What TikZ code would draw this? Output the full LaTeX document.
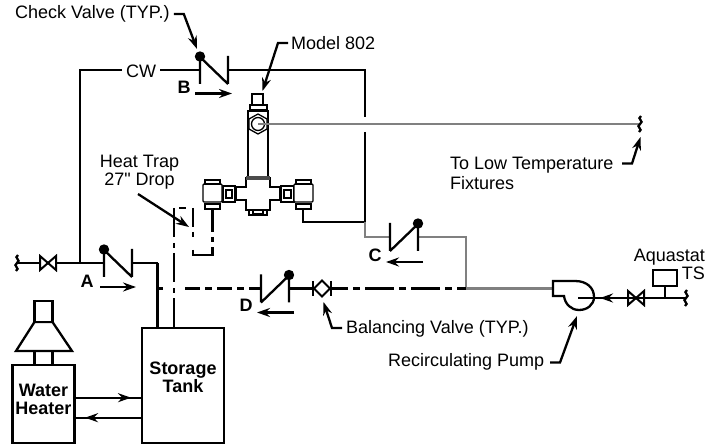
\documentclass[tikz,border=0pt]{standalone}
\usepackage{fontspec}
\setmainfont{Liberation Sans}[Ligatures = TeXOff]
\usetikzlibrary{arrows.meta}

\begin{document}
\begin{tikzpicture}[x = 1bp, y = -1bp, line join = miter,
        every node/.style = {inner sep = 0pt, font = \fontsize{18bp}{18bp}\selectfont},
        tag/.style = {font = \fontsize{18bp}{18bp}\selectfont\bfseries},
        pipe/.style = {line width = 2.3bp},
        hotpipe/.style = {line width = 2.3bp, draw = black!50},
        part/.style = {line width = 1.3bp, fill = white},
        dropline/.style = {pipe, dash pattern = on 29bp off 6bp on 5bp off 5bp},
        returnline/.style = {pipe, dash pattern = on 29bp off 5bp on 7bp off 5bp},
        shortreturn/.style = {pipe, dash pattern = on 15bp off 5bp on 7bp off 5bp},
        pointer/.style = {line width = 2.3bp, -{Stealth[length = 13bp, width = 9bp]}},
        checkvalve/.pic = {
            \draw[pipe] (0, -13) -- (0, 14) (28, -14) -- (28, 14) (0, -13) -- (28, 14);
            \fill (0, -13.5) circle (5.2);},
        stopvalve/.pic = {
            \draw[part, line width = 2bp] (-8, -7) -- (8, 7) -- (8, -7) -- (-8, 7) -- cycle;},
        breakmark/.pic = {
            \draw[pipe] (1, -8) .. controls (-4, -5) and (5, -3) .. (0, 0) .. controls (-5, 3) and (4, 5) .. (-1, 8);}]
        \useasboundingbox (0, 0) rectangle (719, 446);

        \coordinate (cwcorner) at (80, 70);
        \coordinate (cwtee) at (80, 263);
        \coordinate (coldend) at (17, 263);
        \coordinate (coldvalve) at (48, 263);
        \coordinate (valveA) at (104, 263);
        \coordinate (valveAout) at (132, 263);
        \coordinate (tankcold) at (157.5, 263);
        \coordinate (returnstart) at (158, 288.5);
        \coordinate (valveB) at (200, 70);
        \coordinate (valveBout) at (228, 70);
        \coordinate (cwright) at (365, 70);
        \coordinate (cwstop) at (365, 117);
        \coordinate (cwresume) at (365, 132);
        \coordinate (mixin) at (365, 222);
        \coordinate (mixport) at (303, 222);
        \coordinate (valveC) at (418, 237);
        \coordinate (valveCout) at (390, 237);
        \coordinate (greybend) at (365, 237);
        \coordinate (greyright) at (466, 237);
        \coordinate (greyjoin) at (466, 288.5);
        \coordinate (valveD) at (289, 288.5);
        \coordinate (valveDout) at (261, 288.5);
        \coordinate (balance) at (322, 288.5);
        \coordinate (pumpout) at (553, 288.5);
        \coordinate (pumpin) at (578, 298);
        \coordinate (pumpvalve) at (636, 298);
        \coordinate (hotend) at (686, 298);
        \coordinate (statstem) at (665, 298);
        \coordinate (hex) at (258, 124);
        \coordinate (lowend) at (640, 124);

        \node[draw, line width = 2.3bp, minimum width = 82bp, minimum height = 115bp] (tank) at (183, 385.5) {};
        \node[tag, align = center] (tanktext) at (183, 377) {Storage\\Tank};
        \node[draw, line width = 2.3bp, minimum width = 62bp, minimum height = 78bp] (heater) at (43.5, 404) {};
        \node[tag, align = center] (heatertext) at (43.5, 399.5) {Water\\Heater};
        \node[draw, line width = 2bp, minimum width = 24bp, minimum height = 16bp] (stat) at (665, 278) {};

        \draw[pipe] (valveBout) -- (cwright) -- (cwstop);
        \draw[pipe] (cwresume) -- (mixin) -- (mixport) -- (303, 210);
        \draw[pipe] (tankcold) -- (tankcold |- tank.north);
        \draw[pipe] (coldend) -- (valveA);
        \draw[pipe] (valveAout) -- (tankcold);
        \draw[pipe] (cwtee) -- (cwcorner) -- (122, 70);
        \draw[pipe] (160, 70) -- (valveB);
        \node (cw) at (141, 71) {CW};

        \draw[hotpipe] (hex) -- (lowend);
        \draw[hotpipe] (mixin) -- (greybend) -- (valveCout);
        \draw[hotpipe] (valveC) -- (greyright) -- (greyjoin) -- (pumpout);

        \draw[dropline] (174, 208) -- (174, 328);
        \draw[pipe] (179, 208) -- (186, 208);
        \draw[pipe, dash pattern = on 19bp off 5bp on 5bp off 13bp] (193, 208) -- (193, 250);
        \draw[pipe] (193, 250) -- (193, 255) -- (212.5, 255) -- (212.5, 247);
        \draw[pipe, dash pattern = on 22bp off 5bp on 5bp off 5bp] (212.5, 210) -- (212.5, 247);
        \draw[pipe] (returnstart) -- (163, 288.5);
        \draw[shortreturn] (185, 288.5) -- (valveDout);
        \draw[returnline, dash phase = 12bp] (331, 288.5) -- (greyjoin);
        \draw[pipe] (valveD) -- (balance);

        \pic at (valveA) {checkvalve};
        \pic at (valveB) {checkvalve};
        \pic[xscale = -1] at (valveC) {checkvalve};
        \pic[xscale = -1] at (valveD) {checkvalve};
        \pic at (coldvalve) {stopvalve};
        \pic at (pumpvalve) {stopvalve};
        \pic at (coldend) {breakmark};
        \pic at (hotend) {breakmark};
        \pic at (lowend) {breakmark};

        \draw[pipe] (313, 281) -- (313, 296) (331, 281) -- (331, 296);
        \draw[part, line width = 2bp] (balance) +(-8, 0) -- +(0, -8) -- +(8, 0) -- +(0, 8) -- cycle;

        \draw[pipe, fill = white] (553, 281) -- (575, 281) .. controls (587, 281) and (594, 288) .. (594, 297)
            .. controls (594, 305) and (587, 310) .. (579, 310) .. controls (571, 310) and (565, 304) .. (564, 296) -- (553, 296) -- cycle;
        \draw[pipe] (pumpin) -- (hotend);
        \draw[pipe, -{Stealth[length = 13bp, width = 9bp]}] (612, 298) -- (600, 298);
        \draw[pipe] (stat) -- (statstem);

        \draw[pipe] (heater.east |- 0, 397.7) -- (tank.west |- 0, 397.7);
        \draw[pipe, -{Stealth[length = 13bp, width = 9bp]}] (100, 397.7) -- (131, 397.7);
        \draw[pipe] (heater.east |- 0, 417.7) -- (tank.west |- 0, 417.7);
        \draw[pipe, -{Stealth[length = 13bp, width = 9bp]}] (115, 417.7) -- (85, 417.7);

        \draw[pipe, fill = white] (34.5, 351) rectangle (52.5, 365);
        \draw[pipe, fill = white] (34.5, 322) -- (52.5, 322) -- (72, 351) -- (16, 351) -- cycle;
        \draw[pipe, fill = white] (34.5, 301) rectangle (52.5, 322);

        \draw[part] (252, 94) rectangle (263, 105);
        \draw[part] (250, 105) rectangle (267, 110);
        \draw[part] (248, 111) rectangle (268, 178);
        \draw[part] (hex) +(0, -10) -- +(9, -5) -- +(9, 5) -- +(0, 10) -- +(-9, 5) -- +(-9, -5) -- cycle;
        \draw[part] (hex) circle (6.5);
        \draw[hotpipe] (hex) -- (270, 124);
        \draw[part] (246, 178) -- (270, 178) -- (270, 187) -- (280, 187) -- (280, 200) -- (270, 200) -- (270, 210)
            -- (246, 210) -- (246, 200) -- (236, 200) -- (236, 187) -- (246, 187) -- cycle;
        \fill[black!70] (246, 176.5) rectangle (270, 180);
        \draw[part] (249, 210) rectangle (267, 215);
        \draw[part] (253, 210) rectangle (263, 213.5);

        \draw[part] (223, 186) rectangle (235, 202);
        \draw[part] (226, 190) rectangle (232, 198);
        \draw[part] (281, 186) rectangle (294, 202);
        \draw[part] (284, 190) rectangle (291, 198);
        \draw[part, rounded corners = 1bp] (203, 184) rectangle (222, 202);
        \draw[part] (205, 180) rectangle (220, 184);
        \draw[part] (205, 204) rectangle (220, 209);
        \draw[part, rounded corners = 1bp] (294, 184) rectangle (313, 202);
        \draw[part] (296, 180) rectangle (311, 184);
        \draw[part] (296, 204) rectangle (311, 209);

        \node[tag] (labelA) at (87, 281) {A};
        \node[tag] (labelB) at (184, 87) {B};
        \node[tag] (labelC) at (375, 255) {C};
        \node[tag] (labelD) at (246, 305) {D};
        \draw[pointer] (100, 287) -- (136, 287);
        \draw[pointer] (195, 93.5) -- (232, 93.5);
        \draw[pointer] (423, 262) -- (386, 262);
        \draw[pointer] (294, 312.5) -- (257, 312.5);

        \node[anchor = west] (checktext) at (15, 14) {Check Valve (TYP.)};
        \node[anchor = west] (modeltext) at (291, 43) {Model 802};
        \node[align = center] (traptext) at (139.5, 172) {Heat Trap\\27" Drop};
        \node[anchor = west, align = left] (lowtext) at (450, 173) {To Low Temperature\\[2bp]Fixtures};
        \node[anchor = west] (balancetext) at (346, 329) {Balancing Valve (TYP.)};
        \node[anchor = west] (pumptext) at (388, 362) {Recirculating Pump};
        \node[align = right, anchor = east] (stattext) at (705, 264) {Aquastat\\TS};

        \draw[pointer] (checktext.east) ++(4, 0) -- ++(10, 0) -- (197, 49);
        \draw[pointer] (modeltext.west) ++(-3, 0) -- ++(-10, 0) -- (262.5, 91);
        \draw[pointer] (138, 194) -- (189, 227);
        \draw[pointer] (622, 163.5) -- (632, 163.5) -- (640.5, 137);
        \draw[pointer] (342, 328) -- (332, 328) -- (323.5, 302);
        \draw[pointer] (550, 362.5) -- (560, 362.5) -- (577, 316);
    \end{tikzpicture}
\end{document}
